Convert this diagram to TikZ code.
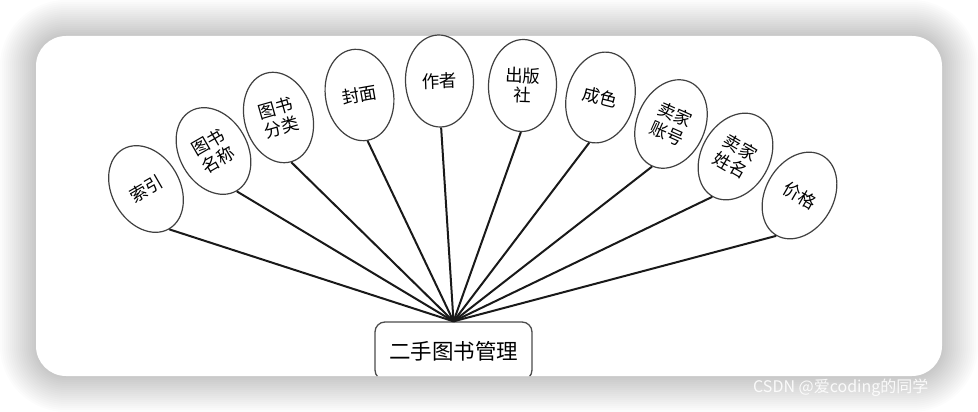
\documentclass[tikz,border=0pt]{standalone}
\usepackage{fontspec}
\setmainfont{Noto Sans CJK SC}
\usetikzlibrary{shapes.geometric}
\tikzset{
  attr/.style={ellipse, draw=black!75, line width=1.2pt, minimum width=68pt, minimum height=92pt,
    inner sep=0pt, align=center, fill=white, font=\fontsize{17.5}{20}\selectfont},
  hubbox/.style={draw=black!70, line width=1.3pt, rounded corners=10pt, minimum width=157pt,
    minimum height=58pt, inner sep=0pt, fill=white, font=\fontsize{21.5}{24}\selectfont},
  link/.style={line width=2pt, black!90},
  watermark/.style={text=white, opacity=0.9, font=\fontsize{16}{19}\selectfont, anchor=west, inner sep=0pt}
}
\begin{document}
\begin{tikzpicture}[x=1pt,y=1pt]
\useasboundingbox (0,0) rectangle (978,-412);
\fill[white] (0,0) rectangle (978,-412);
% shadow
\foreach \k in {1,...,18} {
  \pgfmathsetmacro\rr{30+2*\k}
  \fill[black, opacity=0.011, rounded corners=\rr pt] ({36-2*\k},{-36+2*\k}) rectangle ({942+2*\k},{-376-2*\k});
}
% panel
\fill[white, rounded corners=30pt] (36,-36) rectangle (942,-376);

% hub box, clipped by panel
\begin{scope}
  \clip[rounded corners=30pt] (36,-36) rectangle (942,-376);
  \node[hubbox] (hub) at (453.5,-351) {二手图书管理};
\end{scope}

% attribute ellipses
\node[attr, rotate=30]  (suoyin) at (146,-189)    {索引};
\node[attr, rotate=30]  (tsmc)   at (213.5,-151)  {图书\\名称};
\node[attr, rotate=16]  (tsfl)   at (278.5,-117.5){图书\\分类};
\node[attr, rotate=10]  (fm)     at (359.5,-95)   {封面};
\node[attr, rotate=2]   (zz)     at (439.5,-81)   {作者};
\node[attr, rotate=-2]  (cbs)    at (522.5,-85.5) {出版\\社};
\node[attr, rotate=-14] (cs)     at (600.5,-97.5) {成色};
\node[attr, rotate=-24] (mjzh)   at (671,-124)    {卖家\\账号};
\node[attr, rotate=-30] (mjxm)   at (735.5,-156.5){卖家\\姓名};
\node[attr, rotate=-30] (jg)     at (799.5,-195.5){价格};

% connectors
\foreach \n in {suoyin,tsmc,tsfl,fm,zz,cbs,cs,mjzh,mjxm,jg}
  \draw[link] (\n.south) -- (hub.north);

\node[watermark] (wm) at (753,-388) {CSDN @爱coding的同学};
\end{tikzpicture}
\end{document}
